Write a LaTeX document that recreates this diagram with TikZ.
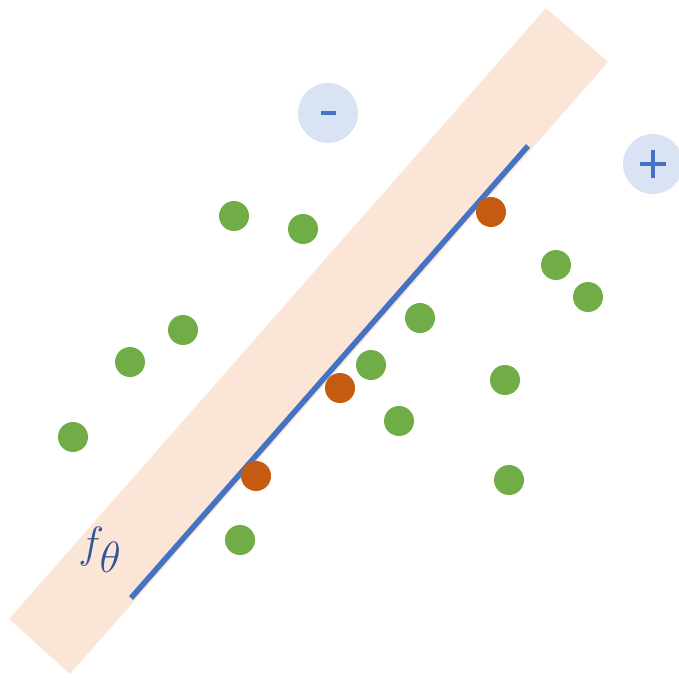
\documentclass[tikz,border=0pt]{standalone}
\usepackage{xcolor}
\definecolor{bandc}{HTML}{FBE5D6}
\definecolor{linec}{HTML}{4472C4}
\definecolor{greenc}{HTML}{70AD47}
\definecolor{orangec}{HTML}{C55A11}
\definecolor{signc}{HTML}{DAE3F3}
\definecolor{labelc}{HTML}{2F5597}
\tikzset{
  gpt/.style={circle, fill=greenc, minimum size=30\pxu, inner sep=0pt},
  opt/.style={circle, fill=orangec, minimum size=30\pxu, inner sep=0pt},
  signbg/.style={circle, fill=signc, minimum size=60\pxu, inner sep=0pt},
}
\newlength{\pxu}
\setlength{\pxu}{0.02cm}
\begin{document}
\begin{tikzpicture}[x=0.02cm, y=-0.02cm]
\useasboundingbox (0,0) rectangle (679,677);
% band
\fill[bandc] (546,8) -- (608,62) -- (70,674) -- (9,619) -- cycle;
% sign circles
\node[signbg] (minus) at (328,113) {};
\node[signbg] (plus) at (653,164) {};
\draw[linec, line width=3.5\pxu] (321,113) -- (336,113);
\draw[linec, line width=3.5\pxu] (640,164) -- (666,164);
\draw[linec, line width=3.5\pxu] (653,150) -- (653,178);
% decision line
\coordinate (la) at (131,598);
\coordinate (lb) at (528,146);
\draw[linec, line width=5.5\pxu] (la) -- (lb);
% label
\node[text=labelc, font=\fontsize{33}{38}\selectfont] (ft) at (100,550) {$f_\theta$};
% green points
\node[gpt] (g1) at (234,216) {};
\node[gpt] (g2) at (303,229) {};
\node[gpt] (g3) at (183,330) {};
\node[gpt] (g4) at (130,362) {};
\node[gpt] (g5) at (73,437) {};
\node[gpt] (g6) at (240,540) {};
\node[gpt] (g7) at (420,318) {};
\node[gpt] (g8) at (371,365) {};
\node[gpt] (g9) at (399,421) {};
\node[gpt] (g10) at (505,380) {};
\node[gpt] (g11) at (509,480) {};
\node[gpt] (g12) at (556,265) {};
\node[gpt] (g13) at (588,297) {};
% orange points
\node[opt] (o1) at (491,212) {};
\node[opt] (o2) at (340,388) {};
\node[opt] (o3) at (256,476) {};
\end{tikzpicture}
\end{document}
